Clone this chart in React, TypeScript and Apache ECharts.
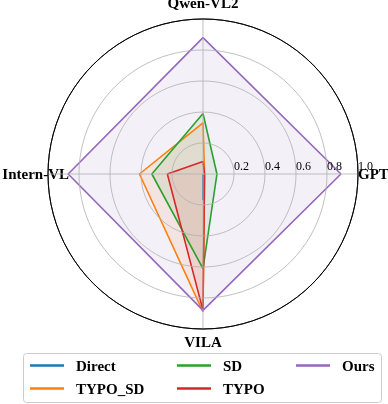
import React, { useEffect, useRef } from "react";
import * as echarts from "echarts";

const categories = ["GPT", "Qwen-VL2", "Intern-VL", "VILA"];
const seriesNames = ["Direct", "TYPO_SD", "SD", "TYPO", "Ours"];
const colors = ["#1f77b4", "#ff7f0e", "#2ca02c", "#d62728", "#9467bd"];
// values in order GPT, Qwen-VL2, Intern-VL, VILA
const directVals = [0.0, 0.0, 0.0, 0.17];
const typoSdVals = [0.01, 0.33, 0.41, 0.89];
const sdVals = [0.09, 0.39, 0.33, 0.61];
const typoVals = [0.01, 0.08, 0.23, 0.88];
const oursVals = [0.89, 0.88, 0.87, 0.88];
const radiusTicks = ["0.2", "0.4", "0.6", "0.8", "1.0"];

const allVals = [directVals, typoSdVals, sdVals, typoVals, oursVals];
const FONT = "'Liberation Serif', 'Times New Roman', serif";

export default function App() {
  const ref = useRef<HTMLDivElement>(null);
  useEffect(() => {
    if (!ref.current) return;
    const chart = echarts.init(ref.current, undefined, { renderer: "svg" });
    const step = 360 / categories.length;
    const richKeys = ["r", "t", "l", "b"];
    const series = seriesNames.map((name, i) => {
      const vals = allVals[i];
      const data = vals.map((v, k) => [v, k * step]);
      data.push([vals[0], 360]);
      return {
        name,
        type: "line",
        coordinateSystem: "polar",
        data,
        symbol: "none",
        color: colors[i],
        lineStyle: { width: 1.6, color: colors[i] },
        areaStyle: { color: colors[i], opacity: 0.1 },
        z: i === 0 ? 4 : 3,
      };
    });
    const legendCol = (names: string[], left: number) => ({
      data: names,
      orient: "vertical",
      left,
      top: 358,
      padding: 0,
      itemGap: 8,
      itemWidth: 34,
      itemHeight: 2.5,
      icon: "rect",
      textStyle: {
        fontFamily: FONT,
        fontWeight: "bold",
        fontSize: 15,
        color: "#000",
        padding: [0, 0, 0, 7],
      },
    });
    const bold = { fontFamily: FONT, fontWeight: "bold", fontSize: 15, color: "#000" };
    chart.setOption({
      animation: false,
      polar: { center: [203, 174], radius: 155 },
      angleAxis: {
        type: "value",
        min: 0,
        max: 360,
        interval: step,
        startAngle: 0,
        clockwise: false,
        axisLine: { show: true, lineStyle: { color: "#000", width: 1 } },
        axisTick: { show: false },
        splitLine: { show: true, lineStyle: { color: "#b0b0b0", width: 0.8 } },
        axisLabel: {
          show: true,
          margin: 2,
          ...bold,
          formatter: (v: number) => {
            const idx = Math.round(v / step);
            if (idx >= categories.length) return "";
            return "{" + richKeys[idx] + "|" + categories[idx] + "}";
          },
          rich: {
            r: { ...bold, padding: [0, 0, 0, -2] },
            t: { ...bold, padding: [0, 0, 7, 0] },
            l: { ...bold, padding: [0, -23, 0, 0] },
            b: { ...bold, padding: [3, 0, 0, 0] },
          },
        },
        z: 6,
      },
      radiusAxis: {
        type: "value",
        min: 0,
        max: 1,
        interval: 0.2,
        axisLine: { show: false },
        axisTick: { show: false },
        splitLine: {
          show: true,
          lineStyle: {
            color: ["#b0b0b0", "#b0b0b0", "#b0b0b0", "#b0b0b0", "#b0b0b0", "#000000"],
            width: 0.8,
          },
        },
        axisLabel: {
          show: true,
          showMinLabel: false,
          align: "left",
          verticalAlign: "bottom",
          margin: 2,
          fontFamily: FONT,
          fontSize: 12,
          color: "#000",
          formatter: (v: number) => {
            const idx = Math.round(v / 0.2) - 1;
            return idx >= 0 && idx < radiusTicks.length ? radiusTicks[idx] : "";
          },
        },
        z: 5,
      },
      legend: [
        legendCol([seriesNames[0], seriesNames[1]], 30),
        legendCol([seriesNames[2], seriesNames[3]], 177),
        legendCol([seriesNames[4]], 296),
      ],
      graphic: [
        {
          type: "rect",
          shape: { x: 23.5, y: 353.5, width: 358, height: 49, r: 3 },
          style: { fill: "#fff", stroke: "#cccccc", lineWidth: 1 },
          z: -1,
        },
      ],
      series,
    });
    return () => chart.dispose();
  }, []);
  return (
    <div
      ref={ref}
      style={{ position: "fixed", left: 0, top: 0, width: 388, height: 404 }}
    />
  );
}
